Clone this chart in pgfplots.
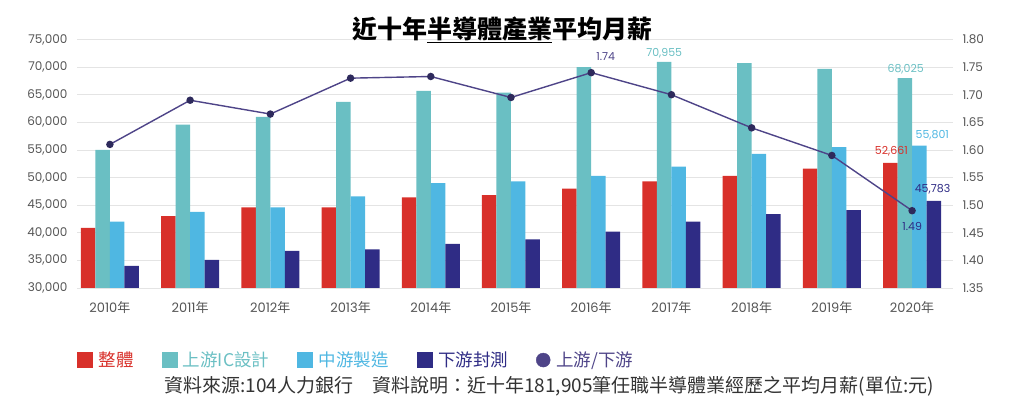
\documentclass[border=0pt]{standalone}
\usepackage{fontspec}
\setmainfont{Poppins}
\newfontfamily\cjk{Noto Sans CJK TC}
\usepackage{pgfplots}
\pgfplotsset{compat=1.18}
\definecolor{cRed}{HTML}{D8302A}
\definecolor{cTeal}{HTML}{6ABFC3}
\definecolor{cBlue}{HTML}{4FB7E2}
\definecolor{cNavy}{HTML}{2F2C85}
\definecolor{cPurple}{HTML}{4E4488}
\definecolor{cMark}{HTML}{2E2A5C}
\definecolor{cTick}{HTML}{555555}
\definecolor{cGrid}{HTML}{E4E4E4}
\begin{document}
\begin{tikzpicture}
\useasboundingbox (0,0) rectangle (1024bp,419bp);
\begin{axis}[
  at={(77bp,131bp)}, anchor=south west, scale only axis,
  width=876bp, height=248.5bp,
  xmin=-0.41, xmax=10.51, ymin=30000, ymax=75000,
  ybar=0pt, bar width=14.5bp,
  axis line style={draw=none}, major tick length=0pt,
  ymajorgrids, grid style={cGrid, line width=0.8bp},
  xtick={0,...,10},
  xticklabels={2010{\cjk 年},2011{\cjk 年},2012{\cjk 年},2013{\cjk 年},2014{\cjk 年},2015{\cjk 年},2016{\cjk 年},2017{\cjk 年},2018{\cjk 年},2019{\cjk 年},2020{\cjk 年}},
  ytick={30000,35000,...,75000},
  /pgf/number format/assume math mode=true,
  yticklabel style={/pgf/number format/1000 sep={,}, font=\fontsize{12bp}{12bp}\selectfont, text=cTick, anchor=east, xshift=-6bp},
  xticklabel style={font=\fontsize{13bp}{13bp}\selectfont, text=cTick, yshift=-10bp},
  scaled y ticks=false,
  clip=true,
]
\addplot[fill=cRed, draw=none] coordinates {(0,40900)(1,43000)(2,44600)(3,44600)(4,46400)(5,46800)(6,48000)(7,49300)(8,50300)(9,51600)(10,52661)};
\addplot[fill=cTeal, draw=none] coordinates {(0,55000)(1,59600)(2,61000)(3,63700)(4,65700)(5,65400)(6,70000)(7,70955)(8,70700)(9,69700)(10,68025)};
\addplot[fill=cBlue, draw=none] coordinates {(0,42000)(1,43800)(2,44600)(3,46600)(4,49000)(5,49300)(6,50300)(7,52000)(8,54300)(9,55500)(10,55801)};
\addplot[fill=cNavy, draw=none] coordinates {(0,34000)(1,35100)(2,36700)(3,37000)(4,38000)(5,38800)(6,40200)(7,42000)(8,43400)(9,44100)(10,45783)};
\end{axis}
\begin{axis}[
  at={(77bp,131bp)}, anchor=south west, scale only axis,
  width=876bp, height=248.5bp,
  xmin=-0.41, xmax=10.51, ymin=1.35, ymax=1.80,
  axis y line*=right, axis x line=none,
  axis line style={draw=none}, major tick length=0pt,
  ytick={1.35,1.40,...,1.81},
  /pgf/number format/assume math mode=true,
  yticklabel style={/pgf/number format/.cd, fixed, fixed zerofill, precision=2, /tikz/.cd, font=\fontsize{12bp}{12bp}\selectfont, text=cTick, anchor=west, xshift=6bp},
  legend columns=5,
  legend style={at={(rel axis cs:0,-0.29)}, anchor=west, draw=none, fill=none,
    font=\cjk\fontsize{17.5bp}{17.5bp}\selectfont,
    /tikz/every odd column/.append style={column sep=4bp},
    /tikz/every even column/.append style={column sep=26bp},
    inner sep=0pt},
  clip=false,
]
\addlegendimage{legend image code/.code={\fill[cRed] (0bp,-7.5bp) rectangle (15bp,7.5bp);}}
\addlegendentry{\textcolor{cRed}{整體}}
\addlegendimage{legend image code/.code={\fill[cTeal] (0bp,-7.5bp) rectangle (15bp,7.5bp);}}
\addlegendentry{\textcolor{cTeal}{上游IC設計}}
\addlegendimage{legend image code/.code={\fill[cBlue] (0bp,-7.5bp) rectangle (15bp,7.5bp);}}
\addlegendentry{\textcolor{cBlue}{中游製造}}
\addlegendimage{legend image code/.code={\fill[cNavy] (0bp,-7.5bp) rectangle (15bp,7.5bp);}}
\addlegendentry{\textcolor{cNavy}{下游封測}}
\addlegendimage{legend image code/.code={\fill[cPurple] (7.5bp,0bp) circle (7bp);}}
\addlegendentry{\textcolor{cPurple}{上游/下游}}
\addplot[cPurple, line width=1.4bp, mark=*, mark size=3bp, mark options={fill=cMark, draw=cMark}] coordinates {(0,1.61)(1,1.69)(2,1.665)(3,1.73)(4,1.733)(5,1.695)(6,1.74)(7,1.70)(8,1.64)(9,1.59)(10,1.49)};
\node[font=\fontsize{11bp}{11bp}\selectfont, text=cPurple, anchor=south west] at (axis cs:6.02,1.755) {1.74};
\node[font=\fontsize{11bp}{11bp}\selectfont, text=cNavy, anchor=north] at (axis cs:10,1.475) {1.49};
\end{axis}
\begin{axis}[
  at={(77bp,131bp)}, anchor=south west, scale only axis,
  width=876bp, height=248.5bp,
  xmin=-0.41, xmax=10.51, ymin=30000, ymax=75000,
  hide axis, clip=false,
]
\addplot[draw=none, mark=none, nodes near coords, point meta=explicit symbolic,
  every node near coord/.append style={font=\fontsize{11bp}{11bp}\selectfont, anchor=south}]
  coordinates {(6.91,70955)[\textcolor{cTeal}{70,955}] (9.92,68025)[\textcolor{cTeal}{68,025}]};
\addplot[draw=none, mark=none, nodes near coords, point meta=explicit symbolic,
  every node near coord/.append style={font=\fontsize{11bp}{11bp}\selectfont, anchor=south east}]
  coordinates {(9.99,53300)[\textcolor{cRed}{52,661}]};
\addplot[draw=none, mark=none, nodes near coords, point meta=explicit symbolic,
  every node near coord/.append style={font=\fontsize{11bp}{11bp}\selectfont, anchor=south west}]
  coordinates {(10.0,56200)[\textcolor{cBlue}{55,801}] (9.99,46300)[\textcolor{cNavy}{45,783}]};
\end{axis}
\node[font=\cjk\bfseries\fontsize{25bp}{25bp}\selectfont, text=black] at (502bp,389bp) {近十年\underline{半導體產業}平均月薪};
\node[font=\cjk\fontsize{19bp}{19bp}\selectfont, text=black!80] at (549bp,33bp) {資料來源:104人力銀行　資料說明：近十年181,905筆任職半導體業經歷之平均月薪(單位:元)};
\end{tikzpicture}
\end{document}
